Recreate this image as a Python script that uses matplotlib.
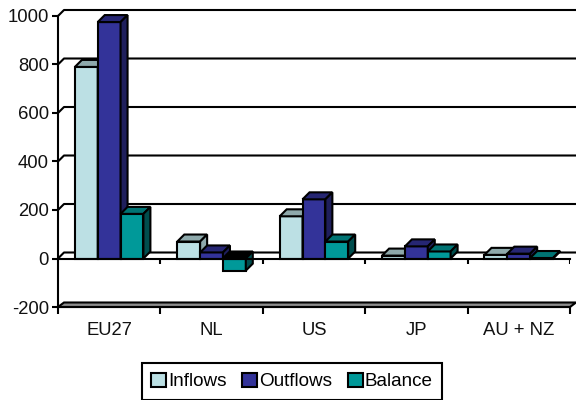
import matplotlib
matplotlib.use("Agg")
import matplotlib.pyplot as plt
from matplotlib.patches import Patch, Polygon

plt.rcParams["font.family"] = ["Liberation Sans", "DejaVu Sans"]

categories = ["EU27", "NL", "US", "JP", "AU + NZ"]
inflows = [790, 70, 174, 12, 15]
outflows = [975, 25, 244, 50, 20]
balance = [184, -50, 70, 29, 2]
y_ticks = [-200, 0, 200, 400, 600, 800, 1000]

series = [
    ("Inflows", inflows, "#BCE0E4", "#8EA9AB", "#8EA9AB"),
    ("Outflows", outflows, "#333399", "#262673", "#1F1F5C"),
    ("Balance", balance, "#009999", "#007373", "#004D4D"),
]

# 1 category = 102.4 px, 1 unit on y = 0.2425 px
PX_X = 1 / 102.4
PX_Y = 1 / 0.2425
DX = 7 * PX_X
DY = 7 * PX_Y
LW = 1.5
BAR_W = 0.223

fig = plt.figure(figsize=(5.76, 4), dpi=100)
ax = fig.add_axes([58 / 576, 93 / 400, 512 / 576, 291 / 400])
ax.set_xlim(0, 5)
ax.set_ylim(-200, 1000)

for s in ["top", "right"]:
    ax.spines[s].set_visible(False)
for s in ["left", "bottom"]:
    ax.spines[s].set_linewidth(LW)
    ax.spines[s].set_zorder(1)

# back wall
wall_x = 6 * PX_X
wall_y = 6 * PX_Y
for v in y_ticks[1:]:
    ax.plot([0, wall_x, 5 + wall_x], [v, v + wall_y, v + wall_y], color="black",
            lw=LW, clip_on=False, zorder=1)

# floor at the bottom
low = y_ticks[0]
floor = [(0, low), (wall_x, low + 4.5 * PX_Y), (5 + wall_x, low + 4.5 * PX_Y), (5, low)]
ax.add_patch(Polygon(floor, closed=True, facecolor="#8C8C8C", edgecolor="black",
                     lw=LW, clip_on=False, zorder=1))

# zero line
ax.plot([0, 5], [0, 0], color="black", lw=LW, zorder=20, clip_on=False)
ax.vlines(range(1, 6), -5 * PX_Y, 0, color="black", lw=LW, zorder=20)


def draw_bar(x, val, front, top, side, z):
    ax.bar(x, val, BAR_W, align="edge", color=front, edgecolor="black", linewidth=LW, zorder=z)
    hi = max(val, 0)
    lo = min(val, 0)
    if val < 0:
        top = "black"
    top_pts = [(x, hi), (x + DX, hi + DY), (x + BAR_W + DX, hi + DY), (x + BAR_W, hi)]
    side_pts = [(x + BAR_W, lo), (x + BAR_W + DX, lo + DY), (x + BAR_W + DX, hi + DY), (x + BAR_W, hi)]
    ax.add_patch(Polygon(top_pts, closed=True, facecolor=top, edgecolor="black", lw=LW, zorder=z, clip_on=False))
    ax.add_patch(Polygon(side_pts, closed=True, facecolor=side, edgecolor="black", lw=LW, zorder=z, clip_on=False))


for i in range(len(categories)):
    for j, (name, vals, front, top, side) in enumerate(series):
        draw_bar(i + 0.165 + j * BAR_W, vals[i], front, top, side, 3 + j * 0.1 + i)

ax.set_yticks(y_ticks)
ax.set_yticklabels([str(v) for v in y_ticks], fontsize=13.3, color="#111111")
ax.set_xticks(range(6))
ax.set_xticklabels([])
ax.set_xticks([i + 0.5 for i in range(5)], minor=True)
ax.set_xticklabels(categories, minor=True, fontsize=13.3, color="#111111")
ax.tick_params(axis="y", length=4, width=LW, pad=2.5)
ax.tick_params(axis="x", which="major", length=5, width=LW)
ax.tick_params(axis="x", which="minor", length=0, pad=11)

handles = [Patch(facecolor=s[2], edgecolor="black", linewidth=LW, label=s[0]) for s in series]
leg = fig.legend(handles=handles, loc="center", bbox_to_anchor=(292 / 576, 18.5 / 400), ncol=3,
                 fontsize=13.6, frameon=True, fancybox=False, framealpha=1, edgecolor="black",
                 handlelength=0.8, handleheight=0.8, handletextpad=0.12, columnspacing=0.8,
                 borderpad=0.5, borderaxespad=0)
leg.get_frame().set_linewidth(LW)

fig.savefig("out.png", dpi=100)
